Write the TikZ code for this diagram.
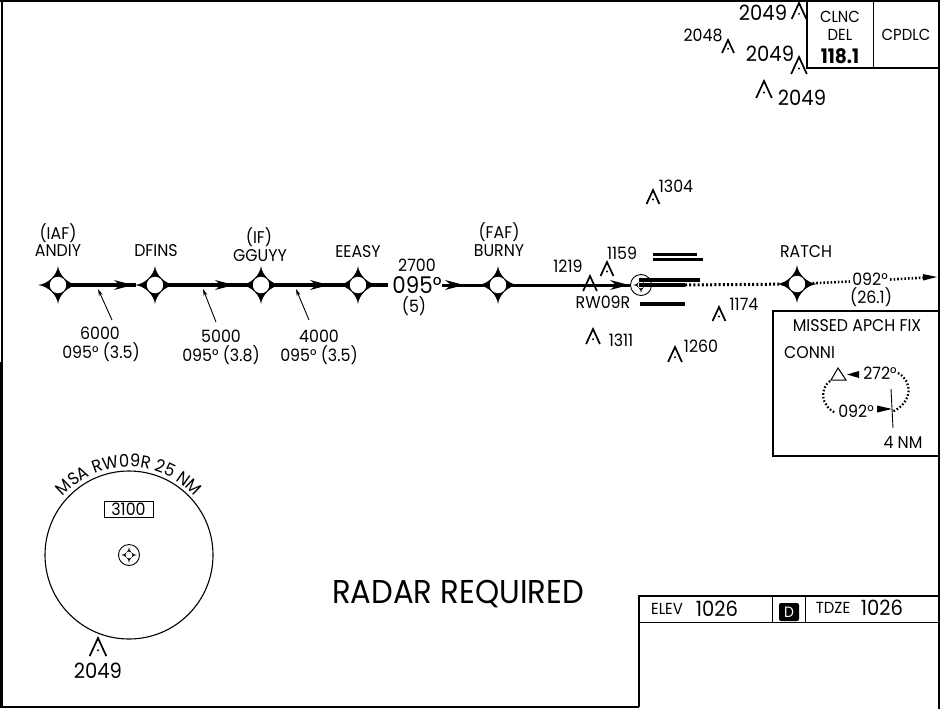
\documentclass[tikz,border=0pt]{standalone}
\usepackage{fontspec}
\setmainfont[FakeStretch=0.93]{Poppins}
\usetikzlibrary{arrows.meta,decorations.text}
\tikzset{
  lbl/.style={inner sep=0pt,font=\fontsize{17}{17}\selectfont,text=black},
  lblb/.style={inner sep=0pt,font=\fontsize{21}{21}\selectfont,text=black},
  lbls/.style={inner sep=0pt,font=\fontsize{16}{16}\selectfont,text=black},
  boxline/.style={line width=1.2pt,black},
  leg/.style={line width=4pt,black},
  leg3/.style={line width=3pt,black},
  rwbar/.style={line width=3.6pt,black},
  dots/.style={line width=3pt,black,dash pattern=on 2pt off 2.2pt},
  dotsthin/.style={line width=2.6pt,black,dash pattern=on 1.6pt off 2pt},
  pointer/.style={line width=.9pt,black,-{Stealth[length=7pt,width=4pt]}},
  wp/.style={circle,fill=white,inner sep=0pt,minimum size=16.5pt},
}
% four-point fix: #1 name, #2 x, #3 y
\newcommand{\fixstar}[3]{%
  \fill[black] (#2-20,#3) .. controls (#2-10,#3-1) and (#2-1,#3-10) .. (#2,#3-19)
    .. controls (#2+1,#3-10) and (#2+10,#3-1) .. (#2+20,#3)
    .. controls (#2+10,#3+1) and (#2+1,#3+10) .. (#2,#3+19)
    .. controls (#2-1,#3+10) and (#2-10,#3+1) .. (#2-20,#3) -- cycle;
  \node[wp] (#1) at (#2,#3) {};}
% small ringed fix
\newcommand{\ringfix}[3]{%
  \node[circle,draw=black,line width=.9pt,fill=white,inner sep=0pt,minimum size=21pt] (#1) at (#2,#3) {};
  \fill[black] (#2-8,#3) .. controls (#2-4,#3) and (#2,#3-4) .. (#2,#3-8)
    .. controls (#2,#3-4) and (#2+4,#3) .. (#2+8,#3)
    .. controls (#2+4,#3) and (#2,#3+4) .. (#2,#3+8)
    .. controls (#2,#3+4) and (#2-4,#3) .. (#2-8,#3) -- cycle;
  \fill[white] (#2,#3) circle (3.4);}
% obstacle: x, top y, height
\newcommand{\obst}[3]{%
  \draw[black,line width=1.7pt,miter limit=10] (#1-#3*.46,#2+#3) -- (#1,#2) -- (#1+#3*.46,#2+#3);
  \fill[black] (#1,#2+#3*.68) circle (1.1);}
% barb on a track, tip at x,y
\newcommand{\barb}[2]{%
  \fill[black] (#1,#2) -- (#1-19,#2-5) -- (#1-13,#2) -- (#1-19,#2+5) -- cycle;}
\begin{document}
\begin{tikzpicture}[x=1pt,y=-1pt]
\useasboundingbox (0,0) rectangle (949,709);
% frame
\draw[line width=2pt,black] (0,1) -- (217,1);
\draw[line width=3pt,black] (217,1) -- (607,1);
\draw[line width=2pt,black] (607,1.2) -- (939,1.2);
\draw[line width=2.4pt,black] (2,0) -- (2,362);
\draw[line width=3.4pt,black] (1.7,362) -- (1.7,707);
\draw[line width=2.6pt,black] (0,707) -- (639,707);
\draw[line width=2.4pt,black] (639,707) -- (639,596) -- (939,596);
\draw[line width=2.6pt,black] (939,0) -- (939,709);
% comm box
\draw[line width=1.8pt,black] (807,0) -- (807,68) -- (939,68);
\draw[line width=.9pt,black] (873,0) -- (873,68);
\node[lbls] (clnc) at (840,17) {CLNC};
\node[lbls] (del) at (840,35) {DEL};
\node[lbl,font=\fontsize{20}{20}\selectfont\bfseries] (freq) at (840,56) {118.1};
\node[lbls] (cpdlc) at (906,35) {CPDLC};
% obstacles top right
\obst{799}{3}{16}
\node[lblb] (o1) at (763,13) {2049};
\obst{728}{40}{13}
\node[lbl] (o2) at (703,35) {2048};
\obst{799}{57}{17}
\node[lblb] (o3) at (770,54) {2049};
\obst{764}{81}{17}
\node[lblb] (o4) at (802,98) {2049};
\obst{653}{190}{14}
\node[lbl] (o5) at (676,186) {1304};
\obst{607}{262}{14}
\node[lbl] (o6) at (622,253) {1159};
\obst{593}{329}{15}
\node[lbl] (o8) at (621,340) {1311};
\obst{675}{347}{15}
\node[lbl] (o9) at (701,346) {1260};
\obst{719}{307}{14}
\node[lbl] (o10) at (744,304) {1174};
\obst{98}{638}{18}
\node[lblb] (o11) at (98,671) {2049};
% fixes
\fixstar{andiy}{58}{285}
\fixstar{dfins}{155}{285}
\fixstar{gguyy}{261}{285}
\fixstar{eeasy}{358}{285}
\fixstar{burny}{498}{285}
\fixstar{ratch}{797}{284}
% track
\ringfix{thr}{641}{285}
\coordinate (stopa) at (136,285);
\coordinate (hdgl) at (388,285);
\coordinate (hdgr) at (442,285);
\draw[leg] (andiy) -- (stopa);
\draw[leg] (dfins) -- (gguyy);
\draw[leg] (gguyy) -- (eeasy);
\draw[leg] (eeasy) -- (hdgl);
\draw[leg3] (hdgr) -- (burny);
\coordinate (thrw) at (630,285);
\draw[leg3] (burny) -- (thrw);
\barb{133}{285}
\barb{234}{285}
\barb{329}{285}
\barb{464}{285}
\barb{629}{285}
\obst{590}{276}{15}
\node[lbl] (o7) at (568,266) {1219};
% runway bars
\coordinate (b1a) at (653,254.5); \coordinate (b1b) at (697,254.5);
\coordinate (b2a) at (653,259.5); \coordinate (b2b) at (703,259.5);
\coordinate (b3a) at (639,280); \coordinate (b3b) at (700,280);
\coordinate (b4a) at (639,285); \coordinate (b4b) at (685,285);
\coordinate (b5a) at (640,304); \coordinate (b5b) at (685,304);
\draw[rwbar] (b1a) -- (b1b);
\draw[rwbar] (b2a) -- (b2b);
\draw[rwbar] (b3a) -- (b3b);
\draw[rwbar] (b4a) -- (b4b);
\draw[rwbar] (b5a) -- (b5b);
\draw[dots] (b4b) -- (ratch);
% missed approach outbound
\coordinate (ma1) at (850,281.5);
\coordinate (ma2) at (890,279.5);
\coordinate (ma3) at (925,277.5);
\coordinate (ma4) at (937,277);
\draw[dotsthin] (ratch) -- (ma1);
\draw[dotsthin] (ma2) -- (ma3);
\fill[black] (ma4) -- (923,274) -- (923,280.5) -- cycle;
\node[lbl] (mahdg) at (870,279) {092°};
\node[lbl] (madist) at (871,297) {(26.1)};
% labels
\node[lbl] (l1) at (58,233) {(IAF)};
\node[lbl] (l2) at (58,251) {ANDIY};
\node[lbl] (l3) at (156,251) {DFINS};
\node[lbl] (l4) at (259,237) {(IF)};
\node[lbl] (l5) at (260,256) {GGUYY};
\node[lbl] (l6) at (358,252) {EEASY};
\node[lbl] (l7) at (417,265) {2700};
\node[lbl,font=\fontsize{23}{23}\selectfont] (l8) at (417,285) {095°};
\node[lbl] (l9) at (414,306) {(5)};
\node[lbl] (l10) at (499,232) {(FAF)};
\node[lbl] (l11) at (499,251) {BURNY};
\node[lbl] (l12) at (806,252) {RATCH};
\node[lbl] (rw) at (603,302) {RW09R};
% altitudes
\node[lbl] (a1) at (100,333) {6000};
\node[lbl] (a2) at (101,352) {095° (3.5)};
\node[lbl] (a3) at (221,336) {5000};
\node[lbl] (a4) at (221,355) {095° (3.8)};
\node[lbl] (a5) at (319,336) {4000};
\node[lbl] (a6) at (319,355) {095° (3.5)};
\coordinate (p1a) at (112,320); \coordinate (p1b) at (98,289);
\coordinate (p2a) at (216,322); \coordinate (p2b) at (203,289);
\coordinate (p3a) at (309,320); \coordinate (p3b) at (296,289);
\draw[pointer] (p1a) -- (p1b);
\draw[pointer] (p2a) -- (p2b);
\draw[pointer] (p3a) -- (p3b);
% missed approach box
\draw[boxline] (939,311) -- (773,311) -- (773,456) -- (939,456);
\node[lbl] (m1) at (857,326) {MISSED APCH FIX};
\node[lbl,anchor=west] (m2) at (784,353) {CONNI};
\draw[black,line width=1pt,fill=white] (838,368) -- (846,380) -- (831,380) -- cycle;
\fill[black] (847,374.5) -- (859,371) -- (859,378) -- cycle;
\node[lbl] (m3) at (880,373) {272°};
\draw[dotsthin,line width=2.2pt] (830,381) .. controls (820,388) and (820,406) .. (836,413);
\draw[dotsthin,line width=2.2pt] (898,373) .. controls (912,380) and (914,402) .. (892,412);
\node[lbl] (m4) at (856,411) {092°};
\fill[black] (892,409) -- (877,405.5) -- (877,412.5) -- cycle;
\coordinate (tka) at (891,389); \coordinate (tkb) at (893,428);
\draw[black,line width=.9pt] (tka) -- (tkb);
\node[lbl] (m5) at (903,442) {4 NM};
% MSA
\draw[black,line width=1.1pt] (129,555) circle (84);
\draw[black,line width=.9pt] (129,555) circle (10.5);
\fill[black] (121,555) .. controls (125,555) and (129,551) .. (129,547)
  .. controls (129,551) and (133,555) .. (137,555)
  .. controls (133,555) and (129,559) .. (129,563)
  .. controls (129,559) and (125,555) .. (121,555) -- cycle;
\fill[white] (129,555) circle (3.4);
\node[lbl,draw=black,line width=.9pt,minimum width=49pt,minimum height=16pt] (msabox) at (128.5,509) {3100};
\path[decorate,decoration={text along path,text align=center,
  text={|\fontsize{17.5}{17.5}\selectfont|MSA RW09R 25 NM}}]
  (129,555) ++(215:88) arc[start angle=215,end angle=325,radius=88];
\node[lbl,font=\fontsize{33}{33}\selectfont] (rr) at (458,594.5) {RADAR REQUIRED};
% elev box
\draw[line width=.9pt,black] (639,622) -- (939,622);
\draw[line width=.9pt,black] (772,596) -- (772,622);
\draw[line width=.9pt,black] (805,596) -- (805,622);
\node[lbl,font=\fontsize{16}{16}\selectfont] (e1) at (667,609) {ELEV};
\node[lblb] (e2) at (717,609) {1026};
\node[rounded corners=2pt,fill=black,text=white,inner sep=0pt,minimum width=20pt,minimum height=18pt,font=\fontsize{15}{15}\selectfont] (d) at (789,612) {D};
\node[lbl,font=\fontsize{16}{16}\selectfont] (e3) at (833,608) {TDZE};
\node[lblb] (e4) at (882,608) {1026};
\end{tikzpicture}
\end{document}
